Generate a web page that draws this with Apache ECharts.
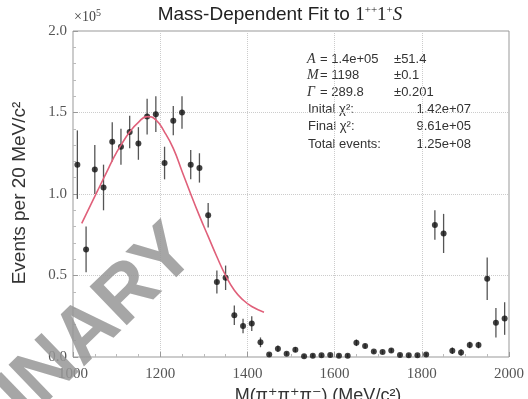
<!DOCTYPE html>
<html><head><meta charset="utf-8">
<script src="https://cdn.jsdelivr.net/npm/echarts@6/dist/echarts.min.js"></script>
<style>html,body{margin:0;padding:0;background:#fff}#c{width:528px;height:399px}</style>
</head><body><div id="c"></div>
<script>
// Data (values in units of 10^5 events per 20 MeV/c^2)
const massBins = [1010,1030,1050,1070,1090,1110,1130,1150,1170,1190,1210,1230,1250,1270,1290,1310,1330,1350,1370,1390,1410,1430,1450,1470,1490,1510,1530,1550,1570,1590,1610,1630,1650,1670,1690,1710,1730,1750,1770,1790,1810,1830,1850,1870,1890,1910,1930,1950,1970,1990];
const events = [1.18,0.66,1.15,1.04,1.32,1.29,1.38,1.31,1.475,1.49,1.19,1.45,1.50,1.18,1.16,0.87,0.46,0.486,0.256,0.19,0.205,0.09,0.015,0.05,0.02,0.045,0.005,0.008,0.01,0.012,0.008,0.008,0.087,0.067,0.033,0.03,0.04,0.012,0.01,0.01,0.015,0.81,0.758,0.038,0.028,0.073,0.073,0.48,0.21,0.236];
const errors = [0.21,0.14,0.15,0.14,0.12,0.11,0.10,0.10,0.11,0.11,0.10,0.09,0.10,0.09,0.09,0.075,0.07,0.075,0.06,0.045,0.045,0.03,0.01,0.02,0.01,0.015,0.01,0.01,0.01,0.01,0.01,0.01,0.02,0.015,0.01,0.01,0.012,0.01,0.01,0.01,0.01,0.09,0.12,0.02,0.02,0.02,0.02,0.13,0.09,0.10];
const fitMass = [1020,1030,1040,1050,1060,1070,1080,1090,1100,1110,1130,1150,1170,1190,1210,1230,1250,1270,1290,1310,1330,1350,1370,1390,1410,1438];
const fitValue = [0.82,0.875,0.93,0.985,1.04,1.095,1.15,1.205,1.255,1.30,1.38,1.44,1.475,1.455,1.38,1.28,1.14,1.0,0.866,0.74,0.615,0.50,0.41,0.35,0.31,0.275];
const yTicks = ['0.0','0.5','1.0','1.5','2.0'];
const xTicks = ['1000','1200','1400','1600','1800','2000'];
const titleText = 'Mass-Dependent Fit to ';
const statRows = [['A','= 1.4e+05','±51.4'],['M','= 1198','±0.1'],['Γ','= 289.8','±0.201']];
const chiRows = [['Inital χ²:','1.42e+07'],['Final χ²:','9.61e+05'],['Total events:','1.25e+08']];

const serif = '"Liberation Serif","DejaVu Serif",serif';
const sans = '"Liberation Sans","DejaVu Sans",sans-serif';
const chart = echarts.init(document.getElementById('c'));
const pts = massBins.map((m,i)=>[m,events[i]]);
const errData = massBins.map((m,i)=>[m,events[i]-errors[i],events[i]+errors[i]]);
const fit = fitMass.map((m,i)=>[m,fitValue[i]]);

const graphics = [
  {type:'text', x:280, y:15, style:{text:'{a|'+titleText+'}{b|1}{s|++}{b|1}{s|+}{i|S}', align:'center', verticalAlign:'middle', rich:{a:{font:'19px '+sans,fill:'#222'},b:{font:'19px '+serif,fill:'#222'},s:{font:'11px '+serif,fill:'#222',padding:[0,0,9,0]},i:{font:'italic 19px '+serif,fill:'#222'}}}},
  {type:'text', x:74, y:8, style:{text:'{a|×10}{s|5}', rich:{a:{font:'14px '+serif,fill:'#444'},s:{font:'10px '+serif,fill:'#444',padding:[0,0,8,0]}}}},
  {type:'text', x:20, y:193, rotation:Math.PI/2, style:{text:'Events per 20 MeV/c²', font:'19px '+sans, fill:'#333', align:'center', verticalAlign:'middle'}},
  {type:'text', x:318, y:396, style:{text:'M(π⁺π⁺π⁻) (MeV/c²)', font:'18px '+sans, fill:'#333', align:'center', verticalAlign:'middle'}}
];
statRows.forEach((r,i)=>{
  const y = 59 + i*16.5;
  graphics.push({type:'text', x:307, y:y, style:{text:r[0], font:'italic 14px '+serif, fill:'#333', verticalAlign:'middle'}});
  graphics.push({type:'text', x:320, y:y, style:{text:r[1], font:'13px '+sans, fill:'#333', verticalAlign:'middle'}});
  graphics.push({type:'text', x:394, y:y, style:{text:r[2], font:'13px '+sans, fill:'#333', verticalAlign:'middle'}});
});
chiRows.forEach((r,i)=>{
  const y = 109 + i*17.5;
  graphics.push({type:'text', x:308, y:y, style:{text:r[0], font:'13px '+sans, fill:'#333', verticalAlign:'middle'}});
  graphics.push({type:'text', x:471, y:y, style:{text:r[1], font:'13px '+sans, fill:'#333', align:'right', verticalAlign:'middle'}});
});
graphics.push({type:'text', x:184, y:240, rotation:44*Math.PI/180, z:100, style:{text:'PRELIMINARY', font:'bold 78px '+sans, fill:'rgba(150,150,150,0.85)', align:'right', verticalAlign:'middle'}});

chart.setOption({
  animation:false,
  grid:{left:73,right:19,top:31,bottom:42,show:true,borderColor:'#999',borderWidth:1},
  xAxis:{type:'value',min:1000,max:2000,interval:200,
    axisLine:{show:false},
    axisTick:{show:true,inside:true,length:5,lineStyle:{color:'#999'}},
    minorTick:{show:true,splitNumber:4,length:3,lineStyle:{color:'#bbb'}},
    splitLine:{show:true,lineStyle:{color:'#ccc',type:'dotted'}},
    axisLabel:{color:'#555',fontFamily:serif,fontSize:15,margin:10,formatter:(v)=>xTicks[Math.round((v-1000)/200)]}},
  yAxis:{type:'value',min:0,max:2,interval:0.5,
    axisLine:{show:false},
    axisTick:{show:true,inside:true,length:5,lineStyle:{color:'#999'}},
    minorTick:{show:true,splitNumber:5,length:3,lineStyle:{color:'#bbb'}},
    splitLine:{show:true,lineStyle:{color:'#ccc',type:'dotted'}},
    axisLabel:{color:'#555',fontFamily:serif,fontSize:15,margin:6,formatter:(v)=>yTicks[Math.round(v/0.5)]}},
  series:[
    {type:'custom', data:errData, z:2,
      renderItem:(params,api)=>{
        const a = api.coord([api.value(0),api.value(1)]);
        const b = api.coord([api.value(0),api.value(2)]);
        return {type:'line', shape:{x1:a[0],y1:a[1],x2:b[0],y2:b[1]}, style:{stroke:'#555',lineWidth:1.3}};
      }},
    {type:'scatter', data:pts, symbol:'circle', symbolSize:6, itemStyle:{color:'#111'}, z:3},
    {type:'line', data:fit, smooth:true, showSymbol:false, lineStyle:{color:'#e0607a',width:1.6}, z:4}
  ],
  graphic:graphics
});
</script></body></html>
